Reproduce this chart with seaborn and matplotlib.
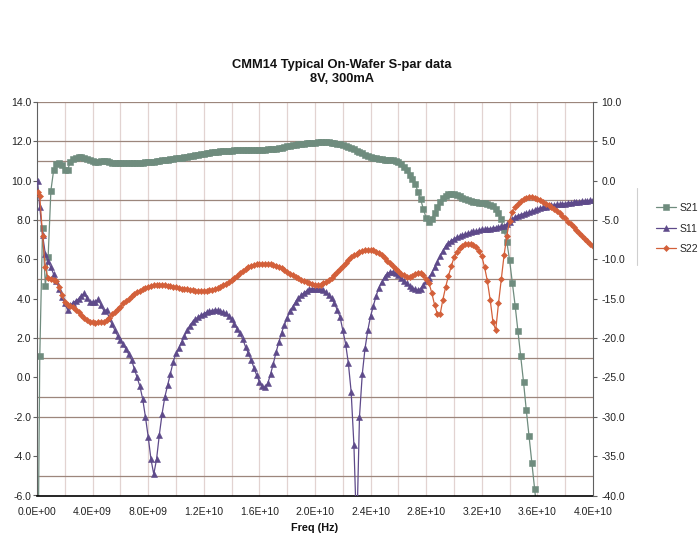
import numpy as np
import pandas as pd
import matplotlib
matplotlib.use("Agg")
import matplotlib.pyplot as plt
import seaborn as sns
from matplotlib.ticker import FuncFormatter
from matplotlib.lines import Line2D

# ---------------- data ----------------
# sweep grid (GHz): 45 MHz start, then 0.2 GHz steps to 40 GHz
freq_ghz = [0.045] + [round(0.2 * k, 1) for k in range(1, 201)]

# S21 (dB, left axis)
s21 = [-12.0,
       1.1, 7.6, 4.65, 6.1, 9.5, 10.55, 10.85, 10.9, 10.8, 10.55,
       10.55, 10.95, 11.1, 11.15, 11.2, 11.2, 11.15, 11.1, 11.05, 11.0,
       10.95, 10.95, 10.98, 11.02, 10.98, 10.93, 10.9, 10.9, 10.9, 10.9,
       10.9, 10.9, 10.9, 10.9, 10.9, 10.91, 10.92, 10.92, 10.93, 10.94,
       10.95, 10.97, 10.99, 11.01, 11.03, 11.05, 11.07, 11.09, 11.11, 11.13,
       11.15, 11.17, 11.19, 11.21, 11.24, 11.27, 11.3, 11.33, 11.36, 11.38,
       11.4, 11.42, 11.44, 11.46, 11.48, 11.49, 11.5, 11.51, 11.52, 11.53,
       11.54, 11.55, 11.55, 11.56, 11.56, 11.56, 11.57, 11.57, 11.57, 11.57,
       11.58, 11.58, 11.59, 11.6, 11.61, 11.63, 11.65, 11.68, 11.71, 11.74,
       11.77, 11.8, 11.83, 11.85, 11.87, 11.89, 11.9, 11.92, 11.93, 11.94,
       11.95, 11.96, 11.96, 11.96, 11.95, 11.93, 11.91, 11.88, 11.84, 11.8,
       11.75, 11.7, 11.65, 11.6, 11.53, 11.46, 11.4, 11.33, 11.27, 11.22,
       11.17, 11.13, 11.1, 11.08, 11.07, 11.06, 11.05, 11.03, 10.99, 10.93,
       10.84, 10.7, 10.52, 10.3, 10.08, 9.85, 9.45, 9.05, 8.55, 8.1,
       7.92, 8.05, 8.34, 8.65, 8.93, 9.12, 9.22, 9.3, 9.32, 9.3,
       9.26, 9.2, 9.12, 9.05, 9.0, 8.96, 8.93, 8.9, 8.88, 8.87,
       8.85, 8.83, 8.78, 8.71, 8.58, 8.38, 8.05, 7.5, 6.9, 5.95,
       4.81, 3.64, 2.36, 1.09, -0.22, -1.66, -3.0, -4.34, -5.69, -7.0,
       np.nan, np.nan, np.nan, np.nan, np.nan, np.nan, np.nan, np.nan, np.nan, np.nan,
       np.nan, np.nan, np.nan, np.nan, np.nan, np.nan, np.nan, np.nan, np.nan, np.nan]

# S11 (dB, right axis)
s11 = [-0.1,
       -3.4, -6.9, -9.3, -10.25, -11.0, -11.9, -12.8, -13.75, -14.75, -15.6,
       -16.4, -15.8, -15.5, -15.25, -15.0, -14.6, -14.3, -14.95, -15.4, -15.4,
       -15.4, -15.05, -15.75, -16.5, -16.4, -17.5, -18.25, -19.0, -19.7, -20.25,
       -20.75, -21.4, -22.05, -22.75, -23.9, -25.0, -26.1, -27.7, -30.0, -32.55,
       -35.4, -37.3, -35.4, -32.3, -29.6, -27.45, -26.0, -24.5, -23.0, -21.95,
       -21.3, -20.5, -19.75, -19.0, -18.4, -17.9, -17.6, -17.3, -17.1, -16.9,
       -16.7, -16.6, -16.5, -16.4, -16.45, -16.55, -16.7, -16.85, -17.15, -17.6,
       -18.25, -18.8, -19.4, -20.1, -21.1, -21.9, -22.75, -23.75, -24.7, -25.55,
       -26.1, -26.25, -25.75, -24.6, -23.25, -21.8, -20.5, -19.3, -18.3, -17.4,
       -16.6, -16.0, -15.4, -14.95, -14.55, -14.25, -14.0, -13.8, -13.7, -13.7,
       -13.7, -13.8, -13.95, -14.2, -14.55, -14.95, -15.6, -16.4, -17.3, -19.0,
       -20.7, -23.2, -26.8, -33.6, -45.0, -30.0, -24.6, -21.3, -19.0, -17.2,
       -15.9, -14.6, -13.6, -12.9, -12.25, -11.8, -11.6, -11.55, -11.7, -11.95,
       -12.3, -12.7, -13.05, -13.35, -13.6, -13.8, -13.9, -13.7, -13.3, -12.75,
       -12.3, -11.75, -11.0, -10.3, -9.6, -8.9, -8.3, -7.9, -7.6, -7.4,
       -7.2, -7.05, -6.9, -6.8, -6.65, -6.55, -6.45, -6.4, -6.3, -6.2,
       -6.2, -6.1, -6.1, -6.0, -5.95, -5.9, -5.8, -5.7, -5.5, -5.2,
       -4.9, -4.6, -4.45, -4.3, -4.2, -4.1, -4.0, -3.9, -3.75, -3.6,
       -3.5, -3.4, -3.3, -3.25, -3.15, -3.1, -3.0, -3.0, -2.9, -2.9,
       -2.8, -2.8, -2.75, -2.7, -2.7, -2.6, -2.6, -2.55, -2.5, -2.45]

# S22 (dB, right axis)
s22 = [-1.4,
       -2.0, -7.0, -11.0, -12.4, -12.55, -12.6, -12.8, -13.45, -14.5, -15.4,
       -15.75, -15.9, -16.05, -16.4, -16.7, -17.05, -17.4, -17.7, -17.9, -18.0,
       -18.05, -18.0, -17.9, -17.9, -17.7, -17.4, -17.0, -16.7, -16.3, -16.0,
       -15.6, -15.25, -15.0, -14.7, -14.45, -14.2, -14.0, -13.8, -13.6, -13.5,
       -13.4, -13.3, -13.3, -13.25, -13.3, -13.3, -13.4, -13.4, -13.5, -13.55,
       -13.6, -13.7, -13.8, -13.8, -13.9, -13.95, -14.0, -14.0, -14.0, -14.0,
       -14.0, -13.9, -13.9, -13.8, -13.6, -13.45, -13.3, -13.1, -12.85, -12.6,
       -12.3, -12.05, -11.75, -11.45, -11.2, -11.0, -10.85, -10.7, -10.6, -10.55,
       -10.55, -10.55, -10.55, -10.6, -10.7, -10.8, -11.0, -11.15, -11.4, -11.6,
       -11.8, -12.0, -12.2, -12.4, -12.6, -12.75, -12.9, -13.0, -13.15, -13.2,
       -13.25, -13.2, -13.05, -12.85, -12.6, -12.3, -11.95, -11.6, -11.2, -10.8,
       -10.4, -10.05, -9.75, -9.5, -9.3, -9.1, -8.95, -8.85, -8.8, -8.8,
       -8.85, -9.0, -9.2, -9.5, -9.8, -10.15, -10.5, -10.85, -11.2, -11.5,
       -11.8, -12.0, -12.2, -12.2, -12.1, -11.9, -11.7, -11.7, -12.0, -12.5,
       -13.0, -14.25, -15.75, -16.9, -17.0, -15.1, -13.5, -12.1, -10.9, -9.75,
       -9.05, -8.55, -8.25, -8.1, -8.05, -8.1, -8.2, -8.4, -8.9, -9.6,
       -11.0, -12.75, -15.1, -17.9, -19.0, -15.6, -12.5, -9.5, -7.0, -5.1,
       -4.0, -3.4, -2.9, -2.6, -2.3, -2.2, -2.1, -2.1, -2.2, -2.3,
       -2.5, -2.7, -2.9, -3.1, -3.35, -3.6, -3.8, -4.1, -4.45, -4.8,
       -5.2, -5.5, -5.9, -6.3, -6.6, -7.0, -7.4, -7.7, -8.0, -8.3]

x_ticks_hz = [0, 4e9, 8e9, 1.2e10, 1.6e10, 2.0e10, 2.4e10, 2.8e10, 3.2e10, 3.6e10, 4.0e10]
left_ticks = [-6, -4, -2, 0, 2, 4, 6, 8, 10, 12, 14]
right_ticks = [-40, -35, -30, -25, -20, -15, -10, -5, 0, 5, 10]
title_text = "CMM14 Typical On-Wafer S-par data\n8V, 300mA"
xlabel_text = "Freq (Hz)"

assert len(freq_ghz) == len(s21) == len(s11) == len(s22) == 201

df = pd.DataFrame({"freq": np.array(freq_ghz) * 1e9, "S21": s21, "S11": s11, "S22": s22})

# ---------------- style ----------------
sns.set_theme(style="white")
plt.rcParams["font.family"] = ["Liberation Sans", "DejaVu Sans"]

W, H = 698, 538
fig = plt.figure(figsize=(W / 100, H / 100), dpi=100)
fig.patch.set_facecolor("white")
x0, x1, ytop, ybot = 37, 593, 102, 495.5
ax = fig.add_axes([x0 / W, 1 - ybot / H, (x1 - x0) / W, (ybot - ytop) / H])
ax2 = ax.twinx()

c21, c11, c22 = "#6f8c7e", "#5e4a8a", "#d3603a"

# gridlines
for xv in np.arange(2e9, 4e10, 2e9):
    ax.axvline(xv, color="#e2d3d1", lw=0.9, zorder=0)
for yv in [14, 12, 11, 9, 8, 5, 2, 1, -1, -2, -5]:
    ax.axhline(yv, color="#9c867c", lw=0.9, zorder=0.5)

sns.lineplot(data=df, x="freq", y="S21", ax=ax, color=c21, lw=0.9,
             marker="s", markersize=4.0, markerfacecolor=c21,
             markeredgecolor=c21, markeredgewidth=0.4,
             label="S21", legend=False, estimator=None, sort=False)
sns.lineplot(data=df, x="freq", y="S11", ax=ax2, color=c11, lw=0.9,
             marker="^", markersize=4.6, markerfacecolor=c11,
             markeredgecolor=c11, markeredgewidth=0.4,
             label="S11", legend=False, estimator=None, sort=False)
sns.lineplot(data=df, x="freq", y="S22", ax=ax2, color=c22, lw=0.9,
             marker="D", markersize=3.1, markerfacecolor=c22,
             markeredgecolor=c22, markeredgewidth=0.4,
             label="S22", legend=False, estimator=None, sort=False)

ax.set_xlim(0, 4e10)
ax.set_ylim(-6, 14)
ax2.set_ylim(-40, 10)
ax.set_xlabel("")
ax.set_ylabel("")
ax2.set_ylabel("")

ax.set_xticks(x_ticks_hz)
ax.xaxis.set_major_formatter(FuncFormatter(lambda v, p: f"{v:.1E}"))
ax.set_yticks(left_ticks)
ax.yaxis.set_major_formatter(FuncFormatter(lambda v, p: f"{v:.1f}"))
ax2.set_yticks(right_ticks)
ax2.yaxis.set_major_formatter(FuncFormatter(lambda v, p: f"{v:.1f}"))

tc = "#222222"
ax.tick_params(axis="x", bottom=True, length=0, pad=8.5, labelsize=7.5, labelcolor=tc)
ax.tick_params(axis="y", left=True, direction="out", length=2.6, width=0.8,
               color="#606060", pad=1.6, labelsize=7.5, labelcolor=tc)
ax2.tick_params(axis="y", right=True, direction="out", length=2.6, width=0.8,
                color="#606060", pad=3.6, labelsize=7.5, labelcolor=tc)

for a in (ax, ax2):
    a.spines["top"].set_visible(False)
ax.spines["right"].set_visible(False)
ax2.spines["left"].set_visible(False)
ax2.spines["bottom"].set_visible(False)
ax.spines["left"].set_color("#606060")
ax.spines["left"].set_linewidth(0.8)
ax2.spines["right"].set_color("#606060")
ax2.spines["right"].set_linewidth(0.8)
ax.spines["bottom"].set_color("#000000")
ax.spines["bottom"].set_linewidth(1.2)
ax.grid(False)
ax2.grid(False)

fig.text(342 / W, 1 - 72 / H, title_text, ha="center", va="center",
         fontsize=9.3, fontweight="bold", linespacing=1.25, color="#111111")
fig.text(315 / W, 1 - 528 / H, xlabel_text, ha="center", va="center",
         fontsize=7.8, fontweight="bold", color="#111111")

# legend (box edge visible only on its left side, as in the reference)
h1, l1 = ax.get_legend_handles_labels()
h2, l2 = ax2.get_legend_handles_labels()
fig.add_artist(Line2D([637 / W, 637 / W], [1 - 265 / H, 1 - 188 / H],
                      transform=fig.transFigure, color="#cfcfcf", lw=0.8))
fig.legend(h1 + h2, l1 + l2, loc="center left",
           bbox_to_anchor=(656 / W, 1 - 228.5 / H), frameon=False,
           fontsize=7.5, handlelength=1.9, handletextpad=0.35,
           labelspacing=1.0, borderpad=0, borderaxespad=0, numpoints=1)

fig.savefig("out.png", dpi=100, facecolor="white")
